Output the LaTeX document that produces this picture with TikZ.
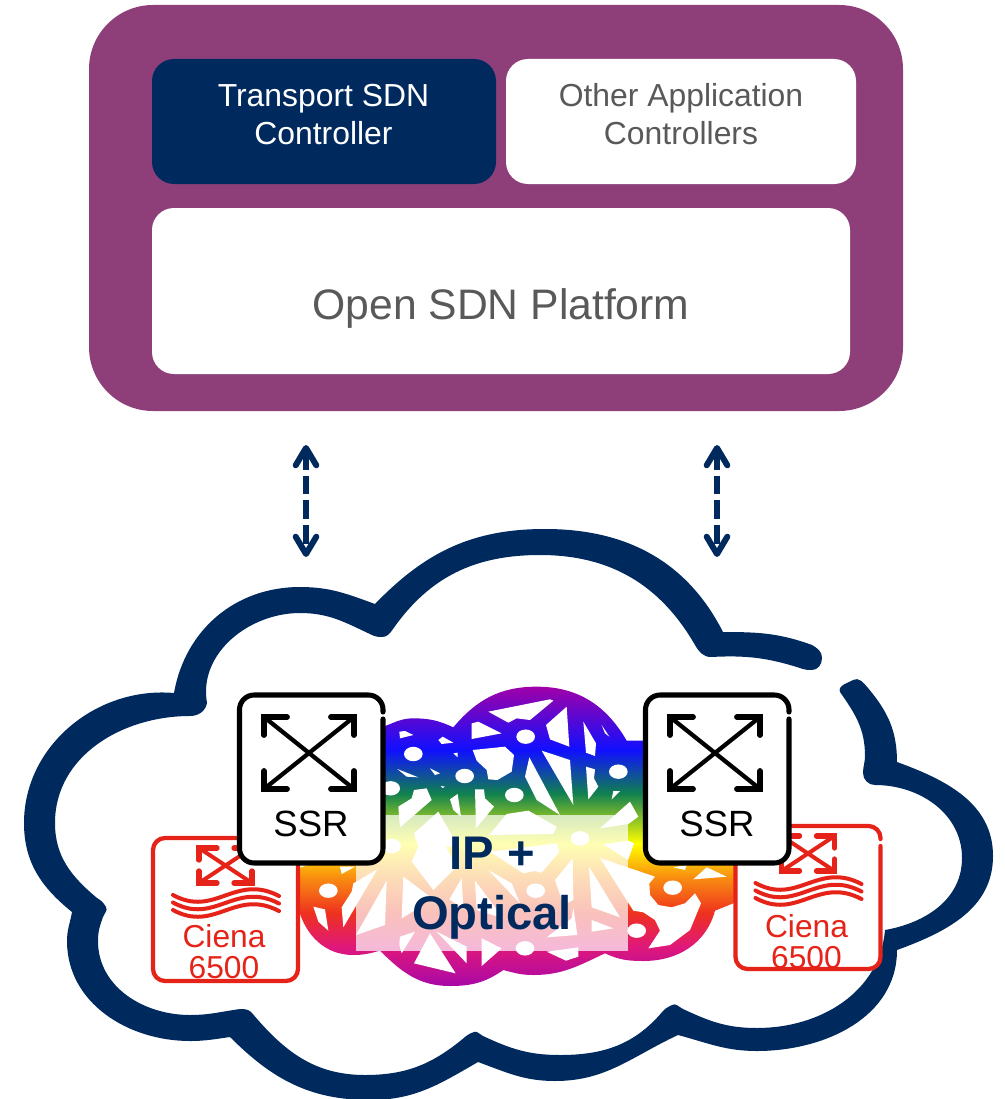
\documentclass[tikz,border=0pt]{standalone}
\usepackage{fontspec}
\setmainfont{Liberation Sans}
\usetikzlibrary{arrows.meta}
\definecolor{plum}{HTML}{8E3F7A}
\definecolor{navy}{HTML}{002A5E}
\definecolor{graytx}{HTML}{595959}
\definecolor{redc}{HTML}{E62318}
\definecolor{sA}{HTML}{A000A8}
\definecolor{sB}{HTML}{1010FF}
\definecolor{sC}{HTML}{108050}
\definecolor{sD}{HTML}{FFFF00}
\definecolor{sE}{HTML}{F9900F}
\definecolor{sF}{HTML}{EE3020}
\definecolor{sG}{HTML}{E0187A}
\definecolor{sH}{HTML}{A808A8}
\pgfdeclareverticalshading{rainbowmesh}{100bp}{color(0bp)=(sH);color(25bp)=(sH);color(31.6bp)=(sG);color(37.1bp)=(sF);color(43.3bp)=(sE);color(48.8bp)=(sD);color(57.2bp)=(sC);color(64.4bp)=(sB);color(75bp)=(sA);color(100bp)=(sA)}
\tikzset{
  txt/.style={inner sep=0pt,align=center},
  bigbox/.style={rounded corners=16.5pt},
  hole/.style={fill=white,draw=none},
  twoway/.style={draw=navy,line width=4.5pt,dash pattern=on 14pt off 4.5pt,{Straight Barb[length=13pt,width=15.5pt,line width=4.5pt,round]}-{Straight Barb[length=13pt,width=15.5pt,line width=4.5pt,round]}},
  cienaline/.style={redc,line width=3pt,line cap=round}
}
\newcommand{\xcross}[9]{% x1 y1 x2 y2 armx army diagwidth armwidth colour
  \draw[#9,line width=#7pt] (#1,#2)--(#3,#4) (#3,#2)--(#1,#4);
  \draw[#9,line width=#8pt,line cap=round,line join=miter]
    (#1+#5,#2)--(#1,#2)--(#1,#2+#6)
    (#3-#5,#2)--(#3,#2)--(#3,#2+#6)
    (#1+#5,#4)--(#1,#4)--(#1,#4-#6)
    (#3-#5,#4)--(#3,#4)--(#3,#4-#6);}
\begin{document}
\begin{tikzpicture}[x=0.75pt,y=-0.75pt]
\useasboundingbox (0,0) rectangle (1005,1099);
% top block
\fill[plum,rounded corners=48pt] (89,5) rectangle (903,411);
\fill[navy,bigbox] (152,59) rectangle (496,184);
\fill[white,bigbox] (506,59) rectangle (856,184);
\fill[white,bigbox] (152,208) rectangle (850,374);
\node[txt,text=white,font=\fontsize{23.9}{28.5}\selectfont] (tsdn) at (323.5,115) {Transport SDN\\Controller};
\node[txt,text=graytx,font=\fontsize{23.9}{28.5}\selectfont] (other) at (681,114.5) {Other Application\\Controllers};
\node[txt,text=graytx,font=\fontsize{32}{38}\selectfont] (platform) at (501,308) {Open SDN Platform};
% arrows
\coordinate (al1) at (306,445); \coordinate (al2) at (306,557);
\coordinate (ar1) at (717,445); \coordinate (ar2) at (717,557);
\draw[twoway] (al1)--(al2);
\draw[twoway] (ar1)--(ar2);
% cloud
\fill[navy]
 (812,645) to[out=160,in=0] (723,632)
 to[out=117,in=0] (545,529) to[out=180,in=46] (375,604)
 to[out=160,in=0] (300,587) to[out=180,in=80] (174,693)
 to[out=175,in=90] (24,823) to[out=270,in=141] (72,912)
 to[out=260,in=90] (67,941) to[out=270,in=180] (190,1041) to[out=0,in=188] (230,1037)
 to[out=-45,in=180] (370,1100) to[out=0,in=210] (478,1062)
 to[out=-20,in=180] (555,1081) to[out=0,in=205] (678,1035)
 to[out=-15,in=180] (757,1051) to[out=0,in=270] (897,950)
 to[out=20,in=270] (993,856) to[out=90,in=-20] (897,762)
 to[out=90,in=-50] (868,688)
 to[out=130,in=30] (853,680) to[out=210,in=110] (840,692)
 to[out=-55,in=90] (865,756)
 to[out=270,in=90] (863,773) to[out=270,in=180] (875,785)
 to[out=0,in=90] (962,858) to[out=270,in=10] (885,930)
 to[out=265,in=0] (757,1028) to[out=180,in=-25] (683,1009)
 to[out=155,in=30] (672,1005) to[out=210,in=50] (663,1011)
 to[out=230,in=0] (560,1055) to[out=180,in=-25] (483,1036)
 to[out=155,in=20] (474,1032) to[out=200,in=40] (465,1037)
 to[out=220,in=0] (365,1075) to[out=180,in=-50] (252,1013)
 to[out=130,in=0] (240,1009)
 to[out=188,in=0] (190,1015) to[out=180,in=-90] (98,941) to[out=90,in=-110] (103,917)
 to[out=70,in=-60] (106,907) to[out=120,in=-30] (97,898)
 to[out=140,in=-90] (55,823) to[out=90,in=180] (190,716)
 to[out=0,in=-100] (207,703)
 to[out=100,in=180] (300,613) to[out=0,in=155] (372,635)
 to[out=-25,in=180] (382,637) to[out=0,in=-125] (393,629)
 to[out=55,in=180] (540,555) to[out=0,in=120] (695,645)
 to[out=-60,in=180] (711,657)
 to[out=3,in=162] (803,669)
 to[out=-18,in=180] (812,670) to[out=0,in=-90] (822,658) to[out=90,in=-30] (812,645)
 -- cycle;
% mesh
\begin{scope}[shift={(290,670)},x=0.25pt,y=-0.25pt]
\shade[shading=rainbowmesh]
 (280,170) to[out=20,in=180] (370,145) to[out=0,in=155] (490,172)
 to[out=50,in=180] (740,50) to[out=0,in=120] (1010,212)
 -- (1080,212) -- (1100,400) -- (1340,590) -- (1340,696) -- (1275,722)
 to[out=255,in=0] (1060,873) to[out=180,in=-25] (945,850)
 to[out=205,in=0] (730,915) to[out=180,in=-15] (640,900)
 to[out=215,in=0] (480,948) to[out=180,in=-45] (270,842)
 to[out=195,in=0] (190,855) to[out=180,in=-75] (25,715)
 -- (10,600) -- (100,570) -- cycle;
% white gaps of the mesh
\foreach \p in {
 {(595,125)--(780,88)--(790,92)--(720,150)--(680,145)--(655,158)},
 {(545,160)--(565,155)--(635,190)--(545,207)},
 {(768,165)--(830,110)--(838,230)--(780,208)--(775,190)},
 {(880,155)--(918,220)--(915,258)--(888,248)},
 {(935,165)--(958,200)--(945,190)},
 {(328,185)--(345,183)--(370,195)--(330,205)},
 {(445,210)--(458,200)--(490,218)--(455,222)},
 {(548,240)--(645,230)--(672,255)--(665,305)--(622,330)--(595,328)--(590,300)--(560,272)},
 {(490,250)--(503,262)--(503,248)},
 {(755,242)--(840,270)--(850,405)},
 {(718,262)--(810,435)--(740,390)--(705,320)},
 {(888,290)--(915,298)--(912,325)--(925,350)--(895,388)},
 {(322,297)--(360,312)--(385,322)--(350,320)},
 {(420,295)--(450,310)--(435,315)},
 {(970,363)--(990,363)--(965,388)},
 {(480,388)--(503,372)--(513,440)--(490,420)},
 {(555,358)--(582,358)--(585,385)--(612,410)--(558,475)},
 {(325,410)--(365,385)--(372,360)--(410,355)--(425,390)--(330,472)},
 {(452,348)--(465,350)--(458,354)},
 {(372,490)--(445,425)--(505,530)--(468,530)--(500,590)--(430,660)--(365,575)--(385,530)},
 {(598,495)--(650,432)--(715,422)--(800,470)--(790,492)},
 {(600,545)--(800,520)--(808,545)--(755,608)--(735,603)--(700,610)},
 {(930,475)--(1020,395)--(1045,440)--(1015,462)},
 {(940,523)--(1014,512)--(1032,520)--(1014,570)},
 {(848,565)--(850,690)--(820,705)--(795,630)},
 {(897,590)--(990,742)--(905,712)},
 {(930,564)--(1030,722)--(1060,727)--(1095,750)--(1110,782)--(1075,835)--(1140,825)--(1200,780)--(1233,700)--(1215,670)--(1185,700)--(1145,712)--(1105,705)--(1080,675)--(1078,640)--(1095,620)},
 {(1210,628)--(1250,592)--(1310,620)},
 {(1150,592)--(1185,600)--(1190,585)},
 {(70,710)--(105,718)--(115,782)--(85,755)},
 {(262,598)--(190,640)--(185,665)--(155,712)--(160,772)},
 {(290,632)--(285,765)--(198,795)},
 {(340,620)--(420,680)--(380,718)--(335,745)},
 {(515,625)--(520,715)--(478,688)},
 {(555,632)--(640,745)--(560,720)},
 {(595,600)--(665,640)--(690,700)},
 {(330,800)--(375,785)--(335,850)--(328,825)},
 {(420,790)--(497,910)--(372,880)},
 {(440,785)--(530,880)--(530,830)},
 {(575,805)--(635,835)--(575,888)},
 {(770,845)--(865,832)--(865,860)--(828,872)},
 {(905,750)--(970,775)--(905,785)},
 {(770,802)--(862,795)--(850,712)--(845,745)},
 {(150,590)--(195,590)--(155,612)}
 } {\fill[hole] \p -- cycle;}
\foreach \ex/\ey in {707/200,370/252,524/318,673/375,985/305,302/355,305/528,870/505,115/662,737/662,705/835,1040/782,1148/653}
  {\fill[hole] (\ex,\ey) ellipse [x radius=7pt,y radius=5.4pt];}
\fill[white,opacity=.7] (198,435) rectangle (1014,843);
\end{scope}
\node[txt,text=navy,font=\fontsize{35.4}{45}\selectfont\bfseries] (ipo) at (492,888) {IP +\\Optical};
% Ciena boxes
\foreach \dx/\dy/\ty/\nm in {0/0/951.5/cienaL,582.5/-12/953.5/cienaR} {
\begin{scope}[shift={(\dx,\dy)}]
\fill[white,rounded corners=9pt] (153,838) rectangle (298,981);
\draw[redc,line width=3.2pt,rounded corners=9pt,line cap=round] (298,851)--(298,838)--(153,838)--(153,981)--(298,981)--(298,858);
\xcross{199}{848}{252}{883}{18}{12}{3}{4}{redc}
\foreach \o in {0,7.5,15}
  \draw[cienaline] (173,895+\o) .. controls (215,918+\o) and (235,873+\o) .. (279,896+\o);
\node[txt,text=redc,font=\fontsize{23.8}{23.2}\selectfont] (\nm) at (224,\ty) {Ciena\\6500};
\end{scope}}
% SSR boxes
\foreach \dx/\nm in {0/ssrL,406/ssrR} {
\begin{scope}[shift={(\dx,0)}]
\fill[white,rounded corners=11pt] (239.5,695) rectangle (383,863);
\draw[black,line width=3.8pt,rounded corners=11pt,line cap=round] (383,712)--(383,695)--(239.5,695)--(239.5,863)--(383,863)--(383,719);
\xcross{264}{717}{354}{789}{23}{18}{3.2}{4.4}{black}
\node[txt,text=black,font=\fontsize{27.4}{32}\selectfont] (\nm) at (311,824) {SSR};
\end{scope}}
\end{tikzpicture}
\end{document}
